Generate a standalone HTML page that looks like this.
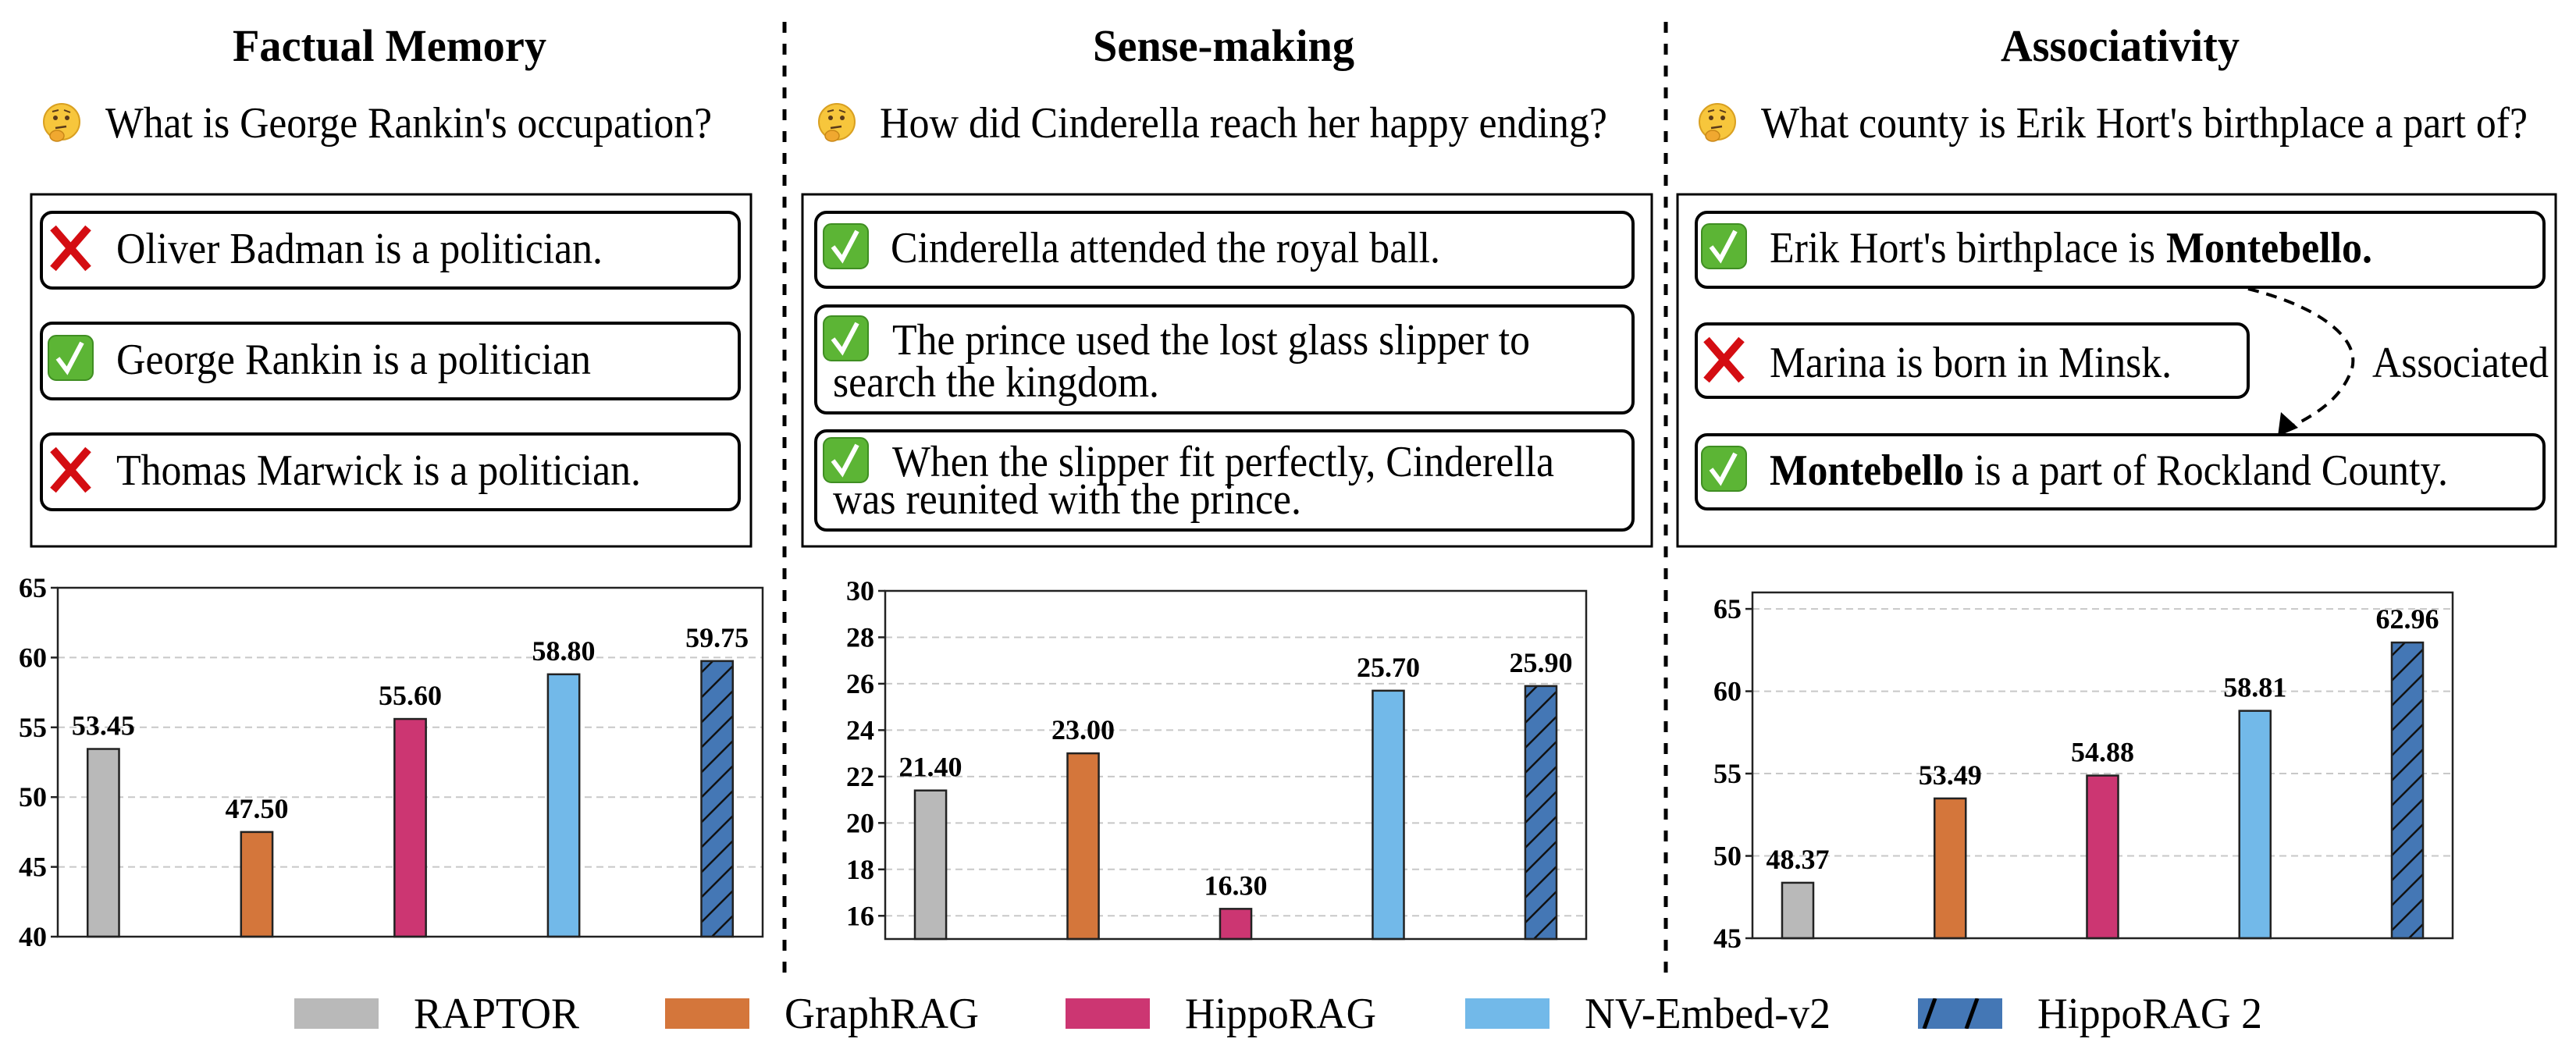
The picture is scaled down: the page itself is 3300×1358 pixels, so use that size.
<!DOCTYPE html>
<html><head><meta charset="utf-8"><style>
html,body{margin:0;padding:0;background:#fff;}
svg{display:block;font-family:"Liberation Serif","Times New Roman",serif;}
text{font-family:"Liberation Serif","Times New Roman",serif;}
</style></head><body>
<svg id="fig" width="3300" height="1358" viewBox="0 0 3300 1358" xmlns="http://www.w3.org/2000/svg">
<defs>
<pattern id="hatch" patternUnits="userSpaceOnUse" width="32" height="32">
<rect width="32" height="32" fill="#4477b5"/>
<path d="M-8,40 L40,-8 M-40,40 L8,-8 M24,40 L72,-8" stroke="#111" stroke-width="2.5"/>
</pattern>
<pattern id="hatchLeg" patternUnits="userSpaceOnUse" width="54" height="39" x="2457" y="1279">
<rect width="54" height="39" fill="#4477b5"/>
<path d="M8,39 L22,0 M62,39 L76,0 M-46,39 L-32,0" stroke="#000" stroke-width="5"/>
</pattern>
<g id="chk"><rect x="0" y="0" width="57" height="57" rx="10" fill="#5cb535" stroke="#3f8e22" stroke-width="2"/><path d="M12,29 L24,45 L43,9" fill="none" stroke="#fff" stroke-width="6"/></g>
<g id="crs"><path d="M6,4 L51,56 M51,4 L6,56" stroke="#d40d12" stroke-width="10"/></g>
<g id="think"><circle cx="24" cy="23" r="23" fill="#f7c63c" stroke="#d9a021" stroke-width="2"/><circle cx="16" cy="18" r="3" fill="#5a3a1a"/><circle cx="31" cy="18" r="3" fill="#5a3a1a"/><path d="M12,10 L20,8 M27,8 L35,11" stroke="#5a3a1a" stroke-width="2"/><path d="M16,31 L30,29" stroke="#5a3a1a" stroke-width="2.5"/><ellipse cx="18" cy="41" rx="9" ry="7" fill="#f0a830" stroke="#c98718" stroke-width="1.5"/></g>
</defs>

<line x1="1005" y1="28" x2="1005" y2="1248" stroke="#000" stroke-width="5" stroke-dasharray="14 14"/>
<line x1="2134" y1="28" x2="2134" y2="1248" stroke="#000" stroke-width="5" stroke-dasharray="14 14"/>

<g>
<text x="298" y="78" font-size="58" font-weight="bold" textLength="402" lengthAdjust="spacingAndGlyphs">Factual Memory</text>
<use href="#think" x="55" y="133"/>
<text x="135" y="176" font-size="56" textLength="777" lengthAdjust="spacingAndGlyphs">What is George Rankin's occupation?</text>
<rect x="40" y="249" width="922" height="451" fill="none" stroke="#000" stroke-width="3"/>
<rect x="53" y="272" width="894" height="97" rx="14" fill="none" stroke="#000" stroke-width="4"/>
<use href="#crs" x="62" y="288"/>
<text x="149" y="337" font-size="56" textLength="623" lengthAdjust="spacingAndGlyphs">Oliver Badman is a politician.</text>
<rect x="53" y="414" width="894" height="97" rx="14" fill="none" stroke="#000" stroke-width="4"/>
<use href="#chk" x="62" y="430"/>
<text x="149" y="479" font-size="56" textLength="608" lengthAdjust="spacingAndGlyphs">George Rankin is a politician</text>
<rect x="53" y="556" width="894" height="97" rx="14" fill="none" stroke="#000" stroke-width="4"/>
<use href="#crs" x="62" y="572"/>
<text x="149" y="621" font-size="56" textLength="672" lengthAdjust="spacingAndGlyphs">Thomas Marwick is a politician.</text>
</g>

<g>
<text x="1400" y="78" font-size="58" font-weight="bold" textLength="335" lengthAdjust="spacingAndGlyphs">Sense-making</text>
<use href="#think" x="1048" y="133"/>
<text x="1127" y="176" font-size="56" textLength="932" lengthAdjust="spacingAndGlyphs">How did Cinderella reach her happy ending?</text>
<rect x="1028" y="249" width="1088" height="451" fill="none" stroke="#000" stroke-width="3"/>
<rect x="1045" y="272" width="1047" height="96" rx="14" fill="none" stroke="#000" stroke-width="4"/>
<use href="#chk" x="1055" y="287"/>
<text x="1141" y="336" font-size="56" textLength="704" lengthAdjust="spacingAndGlyphs">Cinderella attended the royal ball.</text>
<rect x="1045" y="392" width="1047" height="137" rx="14" fill="none" stroke="#000" stroke-width="4"/>
<use href="#chk" x="1055" y="405"/>
<text x="1143" y="454" font-size="56" textLength="817" lengthAdjust="spacingAndGlyphs">The prince used the lost glass slipper to</text>
<text x="1067" y="508" font-size="56" textLength="418" lengthAdjust="spacingAndGlyphs">search the kingdom.</text>
<rect x="1045" y="552" width="1047" height="127" rx="14" fill="none" stroke="#000" stroke-width="4"/>
<use href="#chk" x="1055" y="561"/>
<text x="1143" y="610" font-size="56" textLength="848" lengthAdjust="spacingAndGlyphs">When the slipper fit perfectly, Cinderella</text>
<text x="1067" y="658" font-size="56" textLength="600" lengthAdjust="spacingAndGlyphs">was reunited with the prince.</text>
</g>

<g>
<text x="2563" y="78" font-size="58" font-weight="bold" textLength="306" lengthAdjust="spacingAndGlyphs">Associativity</text>
<use href="#think" x="2176" y="133"/>
<text x="2256" y="176" font-size="56" textLength="982" lengthAdjust="spacingAndGlyphs">What county is Erik Hort's birthplace a part of?</text>
<rect x="2149" y="249" width="1125" height="451" fill="none" stroke="#000" stroke-width="3"/>
<rect x="2173" y="272" width="1086" height="96" rx="14" fill="none" stroke="#000" stroke-width="4"/>
<use href="#chk" x="2180" y="287"/>
<text x="2267" y="336" font-size="56" textLength="494" lengthAdjust="spacingAndGlyphs">Erik Hort's birthplace is</text>
<text x="2775" y="336" font-size="56" font-weight="bold" textLength="264" lengthAdjust="spacingAndGlyphs">Montebello.</text>
<rect x="2173" y="415" width="707" height="94" rx="14" fill="none" stroke="#000" stroke-width="4"/>
<use href="#crs" x="2180" y="431"/>
<text x="2267" y="483" font-size="56" textLength="515" lengthAdjust="spacingAndGlyphs">Marina is born in Minsk.</text>
<rect x="2173" y="557" width="1086" height="95" rx="14" fill="none" stroke="#000" stroke-width="4"/>
<use href="#chk" x="2180" y="572"/>
<text x="2267" y="621" font-size="56" font-weight="bold" textLength="249" lengthAdjust="spacingAndGlyphs">Montebello</text>
<text x="2529" y="621" font-size="56" textLength="607" lengthAdjust="spacingAndGlyphs">is a part of Rockland County.</text>
<path d="M2880,370 C2980,395 3030,440 3010,480 C2995,515 2960,535 2928,550" fill="none" stroke="#000" stroke-width="4" stroke-dasharray="14 10"/>
<polygon points="2918,559 2922,528 2944,548" fill="#000"/>
<text x="3039" y="483" font-size="56" textLength="226" lengthAdjust="spacingAndGlyphs">Associated</text>
</g>

<g id="charts"></g>
<g id="legend"></g>
</svg>
<script>
const categories = ["RAPTOR","GraphRAG","HippoRAG","NV-Embed-v2","HippoRAG 2"];
const factualValues = [53.45, 47.50, 55.60, 58.80, 59.75];
const senseValues = [21.40, 23.00, 16.30, 25.70, 25.90];
const assocValues = [48.37, 53.49, 54.88, 58.81, 62.96];
const factualTicks = [40,45,50,55,60,65];
const senseTicks = [16,18,20,22,24,26,28,30];
const assocTicks = [45,50,55,60,65];
const factualRange = [40,65];
const senseRange = [15,30];
const assocRange = [45,66];
const fills = ["#b9b9b9","#d4763b","#cc3672","#72b9e9","url(#hatch)"];
const FONT = '"Liberation Serif","Times New Roman",serif';

const NS = "http://www.w3.org/2000/svg";
function mk(tag, attrs, parent){ const e=document.createElementNS(NS,tag); for(const k in attrs) e.setAttribute(k,attrs[k]); parent.appendChild(e); return e; }

function drawChart(name, box, values, ticks, range){
  const root = document.getElementById('charts');
  const g = mk('g',{},root);
  
  
  const [x0,x1,yTop,yBot] = box;
  const y = v => yBot - (v - range[0]) / (range[1]-range[0]) * (yBot - yTop);
  const pad = 0.297, n = values.length;
  const step = (x1 - x0) / (n - 1 + 2*pad);
  const xc = i => x0 + (i + pad) * step;
  const bw = step * 0.205;
  ticks.forEach(t => {
    const yy = y(t);
    const gl = mk('line',{x1:x0,x2:x1,y1:yy,y2:yy,stroke:'#c8c8c8','stroke-width':2,'stroke-dasharray':'9 6'},g);
    
    
    const tk = mk('line',{x1:x0-9,x2:x0,y1:yy,y2:yy,stroke:'#222','stroke-width':2.5},g);
    
    
    const tl = mk('text',{x:x0-14,y:yy+12,'font-size':36,'font-weight':'bold','text-anchor':'end','font-family':FONT},g);
    tl.textContent = String(t);
    
    
  });
  values.forEach((v,i) => {
    const top = y(v);
    const r = mk('rect',{x:xc(i)-bw/2,y:top,width:bw,height:yBot-top,fill:fills[i],stroke:'#222','stroke-width':2.5},g);
    
    
    const lb = mk('text',{x:xc(i),y:top-18,'font-size':36,'font-weight':'bold','text-anchor':'middle','font-family':FONT},g);
    lb.textContent = v.toFixed(2);
    
    
  });
  const fr = mk('rect',{x:x0,y:yTop,width:x1-x0,height:yBot-yTop,fill:'none',stroke:'#222','stroke-width':2.5},g);
  
  
}
drawChart('factual-memory-chart',[74,977,753,1200],factualValues,factualTicks,factualRange);
drawChart('sense-making-chart',[1134,2032,757,1203],senseValues,senseTicks,senseRange);
drawChart('associativity-chart',[2245,3142,759,1202],assocValues,assocTicks,assocRange);

const legendSwatchX = [377,852,1365,1877,2457];
const legendTextW = [212,249,245,315,288];
const legFills = ["#b9b9b9","#d4763b","#cc3672","#72b9e9","url(#hatchLeg)"];
const lg = document.getElementById('legend');


categories.forEach((c,i) => {
  const e = mk('g',{},lg);
  
  
  mk('rect',{x:legendSwatchX[i],y:1279,width:108,height:39,fill:legFills[i]},e);
  const t = mk('text',{x:legendSwatchX[i]+153,y:1317,'font-size':56,'font-family':FONT,textLength:legendTextW[i],lengthAdjust:'spacingAndGlyphs'},e);
  t.textContent = c;
});
</script>
</body></html>
